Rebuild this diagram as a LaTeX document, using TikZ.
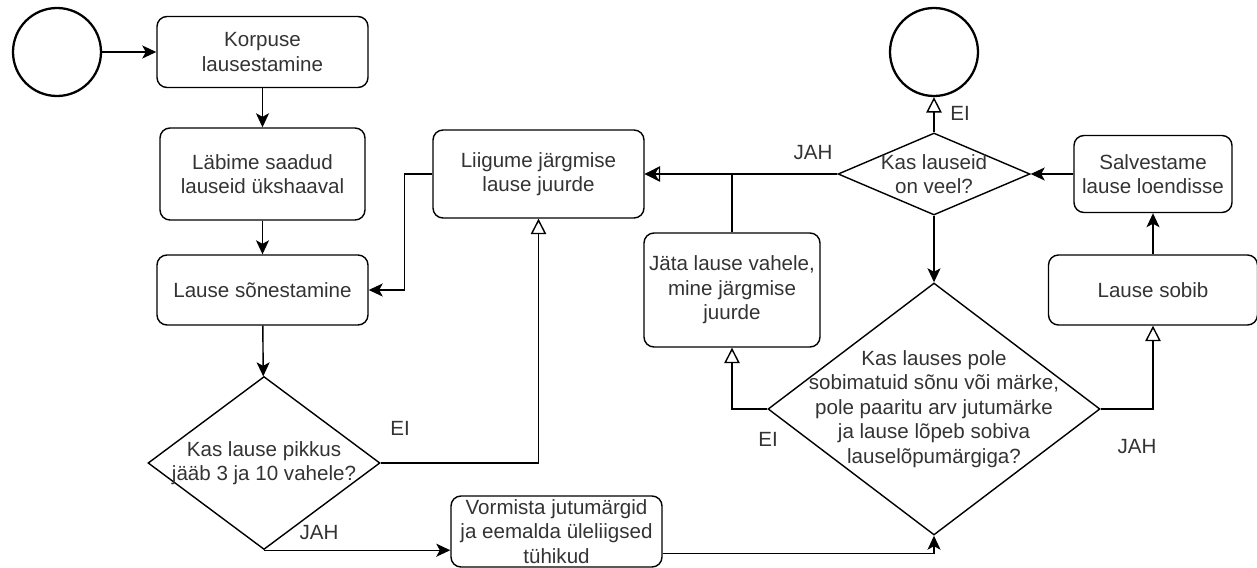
\documentclass[tikz,border=0pt]{standalone}
\usepackage{fontspec}
\setmainfont{Liberation Sans}
\usetikzlibrary{arrows.meta, positioning, shapes.geometric}

\begin{document}
\begin{tikzpicture}[>=Stealth,
    every node/.style={font=\fontsize{11.7}{14}\selectfont, align=center, text=black!80},
    box/.style={draw, rounded corners=0.2cm, line width=0.8pt},
    decision/.style={draw, diamond, inner sep=0pt, line width=0.8pt},
    terminal/.style={draw, circle, line width=1.3pt, minimum size=1.76cm},
    flow/.style={-{Stealth[length=2.8mm, width=2.6mm, inset=0.7mm]}, line width=0.8pt},
    noflow/.style={-{Triangle[open, length=3.1mm, width=3.1mm]}, line width=0.8pt}]
    \useasboundingbox (0,0) rectangle (25.14,-11.34);

    \node[terminal] (algus) at (1.14,-1.04) {};
    \node[box, minimum width=4.22cm, minimum height=1.42cm] (korpus) at (5.25,-1.04) {Korpuse\\lausestamine};
    \node[box, minimum width=4.1cm, minimum height=1.84cm] (labime) at (5.25,-3.48) {Läbime saadud\\lauseid ükshaaval};
    \node[box, minimum width=4.22cm, minimum height=1.4cm] (sonestamine) at (5.25,-5.8) {Lause sõnestamine};
    \node[decision, minimum width=4.64cm, minimum height=3.46cm,
        label={center:Kas lause pikkus\\jääb 3 ja 10 vahele?}] (pikkus) at (5.28,-9.26) {};
    \node[box, minimum width=4.22cm, minimum height=1.76cm] (liigume) at (10.77,-3.48) {Liigume järgmise\\lause juurde};
    \node[box, inner sep=0pt, minimum width=4.22cm, minimum height=1.42cm] (vormista) at (11.13,-10.63) {Vormista jutumärgid\\ja eemalda üleliigsed\\tühikud};
    \node[box, inner sep=0pt, minimum width=3.52cm, minimum height=2.28cm] (jata) at (14.64,-5.8) {Jäta lause vahele,\\mine järgmise\\juurde};
    \node[terminal] (lopp) at (18.68,-1.04) {};
    \node[decision, minimum width=3.84cm, minimum height=1.64cm,
        label={center:Kas lauseid\\on veel?}] (veel) at (18.68,-3.48) {};
    \node[decision, minimum width=6.64cm, minimum height=5.04cm,
        label={center:Kas lauses pole\\sobimatuid sõnu või märke,\\pole paaritu arv jutumärke\\ja lause lõpeb sobiva\\lauselõpumärgiga?}] (kriteerium) at (18.68,-8.18) {};
    \node[box, minimum width=3.16cm, minimum height=1.54cm] (salvesta) at (23.06,-3.48) {Salvestame\\lause loendisse};
    \node[box, minimum width=4.18cm, minimum height=1.4cm] (sobib) at (23.06,-5.8) {Lause sobib};

    \draw[flow] (algus) -- (korpus);
    \draw[flow] (korpus) -- (labime);
    \draw[flow] (labime) -- (sonestamine);
    \draw[flow] (sonestamine) -- (pikkus);
    \draw[noflow] (pikkus.east) -| (liigume.south);
    \draw[flow] (pikkus.south) -- (pikkus.south -| vormista.west);
    \draw[flow] ([yshift=-0.44cm]vormista.east) -| (kriteerium.south);
    \draw[flow] (liigume.west) -- ++(-0.56,0) |- (sonestamine.east);
    \draw[noflow] (veel.west) -- (liigume.east);
    \draw[flow] (jata.north) |- (liigume.east);
    \draw[noflow] (veel.north) -- (lopp.south);
    \draw[flow] (veel.south) -- (kriteerium.north);
    \draw[flow] (salvesta.west) -- (veel.east);
    \draw[flow] (sobib.north) -- (salvesta.south);
    \draw[noflow] (kriteerium.east) -| (sobib.south);
    \draw[noflow] (kriteerium.west) -| (jata.south);

    \node (eiPikkus) at (8.0,-8.56) {EI};
    \node (jahPikkus) at (6.38,-10.66) {JAH};
    \node (jahVeel) at (16.26,-3.06) {JAH};
    \node (eiVeel) at (19.2,-2.26) {EI};
    \node (eiKriteerium) at (15.36,-8.78) {EI};
    \node (jahKriteerium) at (22.74,-8.94) {JAH};
\end{tikzpicture}
\end{document}
